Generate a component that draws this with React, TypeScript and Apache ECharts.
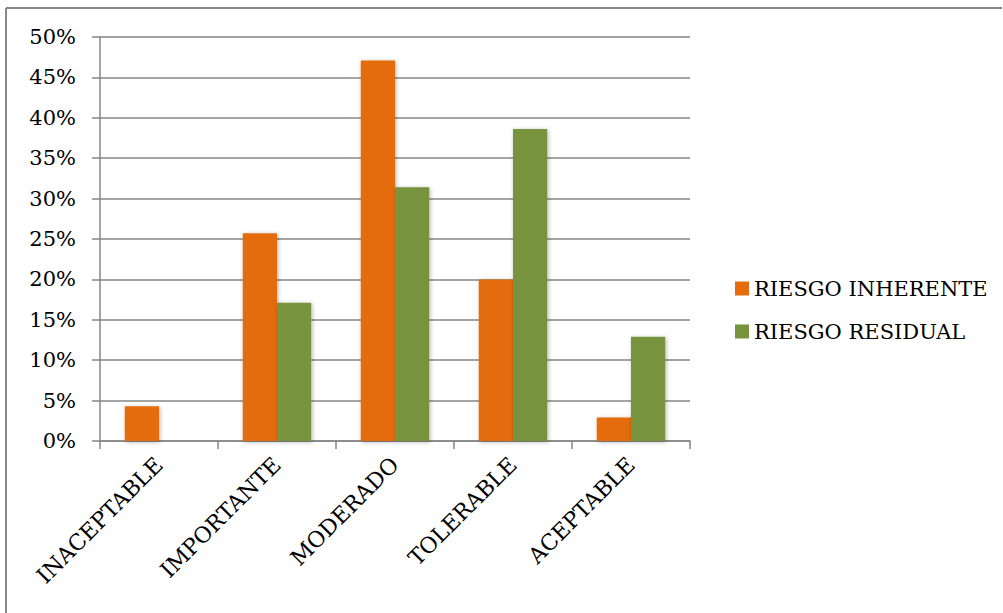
import React, { useEffect, useRef } from "react";
import * as echarts from "echarts";

const categories = ["INACEPTABLE", "IMPORTANTE", "MODERADO", "TOLERABLE", "ACEPTABLE"];
const inherente = [0.043, 0.257, 0.471, 0.2, 0.029];
const residual = [0, 0.171, 0.314, 0.386, 0.129];
const seriesNames = ["RIESGO INHERENTE", "RIESGO RESIDUAL"];

const FONT = "DejaVu Serif";

export default function App() {
  const ref = useRef<HTMLDivElement>(null);
  useEffect(() => {
    const chart = echarts.init(ref.current!, null, { renderer: "svg" });
    const shadow = {
      shadowBlur: 4,
      shadowColor: "rgba(0,0,0,0.3)",
      shadowOffsetX: 1,
      shadowOffsetY: 1,
    };
    chart.setOption({
      animation: false,
      backgroundColor: "#ffffff",
      textStyle: { fontFamily: FONT },
      grid: { left: 100, right: 313, top: 37, bottom: 172, containLabel: false },
      legend: {
        orient: "vertical",
        left: 730,
        top: 273,
        itemWidth: 14,
        itemHeight: 14,
        itemGap: 22,
        icon: "rect",
        textStyle: { fontFamily: FONT, fontSize: 21, color: "#000" },
        data: seriesNames,
      },
      xAxis: {
        type: "category",
        data: categories,
        axisLine: { lineStyle: { color: "#868686", width: 1.5 } },
        axisTick: { show: true, length: 8, alignWithLabel: false, lineStyle: { color: "#868686", width: 1.5 } },
        axisLabel: {
          rotate: 45,
          interval: 0,
          margin: 20,
          fontFamily: FONT,
          fontSize: 22,
          color: "#000",
        },
      },
      yAxis: {
        type: "value",
        min: 0,
        max: 0.5,
        interval: 0.05,
        axisLine: { show: true, lineStyle: { color: "#868686", width: 1.5 } },
        axisTick: { show: true, length: 8, lineStyle: { color: "#868686", width: 1.5 } },
        splitLine: { show: true, lineStyle: { color: "#868686", width: 1.5 } },
        axisLabel: {
          margin: 24,
          fontFamily: FONT,
          fontSize: 21,
          color: "#000",
          formatter: (v: number) => Math.round(v * 100) + "%",
        },
      },
      series: [
        {
          name: seriesNames[0],
          type: "bar",
          data: inherente,
          barGap: "0%",
          barCategoryGap: "42%",
          itemStyle: { color: "#E46C0A", ...shadow },
        },
        {
          name: seriesNames[1],
          type: "bar",
          data: residual,
          barGap: "0%",
          barCategoryGap: "42%",
          itemStyle: { color: "#77933C", ...shadow },
        },
      ],
      graphic: [
        { type: "line", shape: { x1: 6, y1: 8, x2: 1002, y2: 8 }, style: { stroke: "#888", lineWidth: 2 } },
        { type: "line", shape: { x1: 6, y1: 8, x2: 6, y2: 613 }, style: { stroke: "#888", lineWidth: 2 } },
      ],
    });
    return () => chart.dispose();
  }, []);
  return (
    <div
      ref={ref}
      style={{ position: "fixed", left: 0, top: 0, width: 1003, height: 613, background: "#fff" }}
    />
  );
}
